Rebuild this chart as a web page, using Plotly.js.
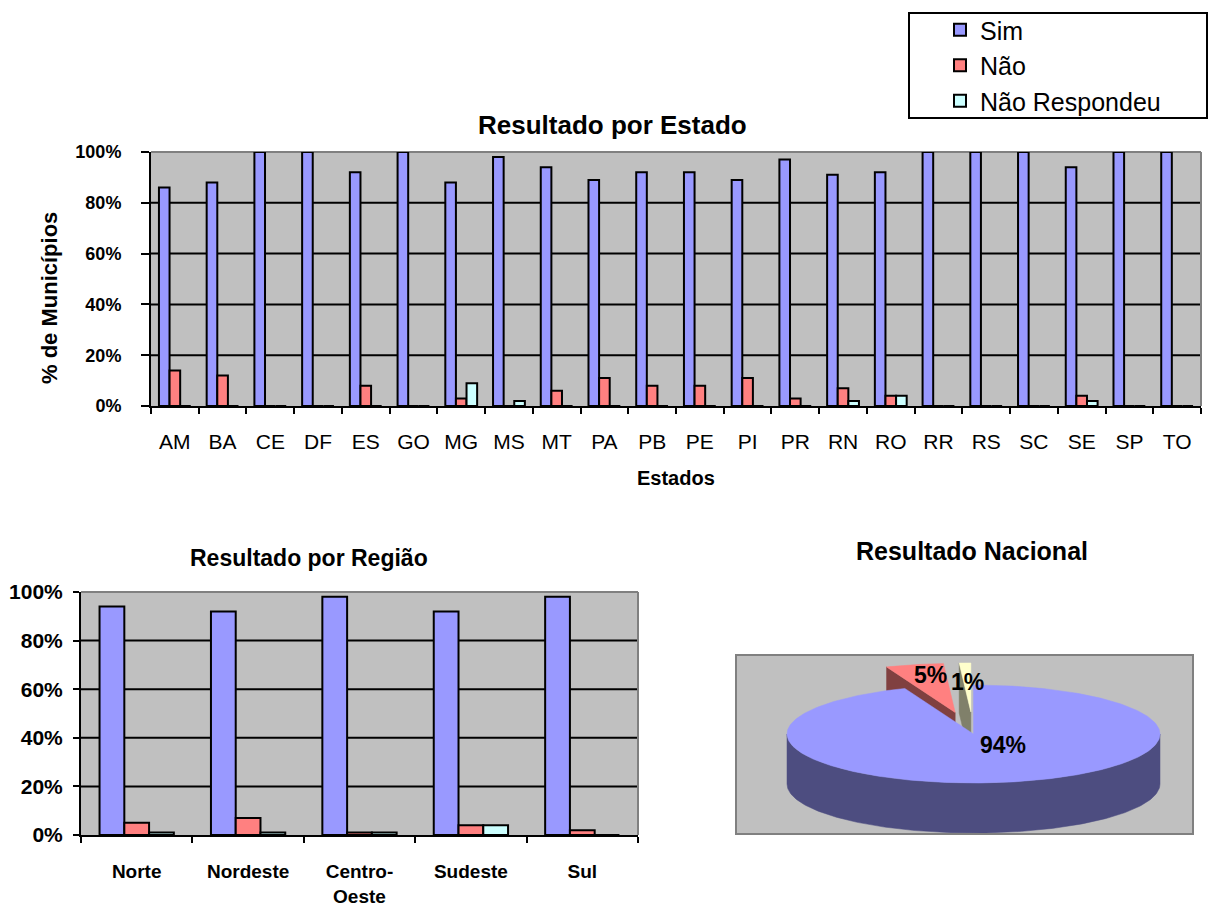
<!DOCTYPE html>
<html>
<head>
<meta charset="utf-8">
<script src="https://cdn.plot.ly/plotly-3.0.1.min.js"></script>
<style>html,body{margin:0;padding:0;background:#fff;}#chart{width:1208px;height:907px;}</style>
</head>
<body>
<div id="chart"></div>
<script>
// ---------- data ----------
const states = ['AM','BA','CE','DF','ES','GO','MG','MS','MT','PA','PB','PE','PI','PR','RN','RO','RR','RS','SC','SE','SP','TO'];
const stateSim = [86,88,100,100,92,100,88,98,94,89,92,92,89,97,91,92,100,100,100,94,100,100];
const stateNao = [14,12,0,0,8,0,3,0,6,11,8,8,11,3,7,4,0,0,0,4,0,0];
const stateNR  = [0,0,0,0,0,0,9,2,0,0,0,0,0,0,2,4,0,0,0,2,0,0];

const regions = ['Norte','Nordeste','Centro-Oeste','Sudeste','Sul'];
const regionSim = [94,92,98,92,98];
const regionNao = [5,7,1,4,2];
const regionNR  = [1,1,1,4,0];

const nationalLabels = ['Sim','Não','Não Respondeu'];
const nationalValues = [94,5,1];

const seriesNames = ['Sim','Não','Não Respondeu'];
const yTicks = [0,20,40,60,80,100];

// ---------- style ----------
const W = 1208, H = 907;
const X = p => p / W;
const Y = p => 1 - p / H;
const FONT = 'Liberation Sans, Arial, sans-serif';
const barColors = ['#9999FF','#FF8080','#CCFFFF'];
const pieTop = ['#9999FF','#FF8080','#FFFFCC'];
const pieSide = ['#4D4D80','#804040','#80806A'];
const grey = '#C0C0C0';

const traces = [];
const stateSeries = [stateSim, stateNao, stateNR];
const regionSeries = [regionSim, regionNao, regionNR];
for (let i = 0; i < 3; i++) {
  traces.push({
    type: 'bar', x: states, y: stateSeries[i], name: seriesNames[i],
    xaxis: 'x', yaxis: 'y',
    marker: {color: barColors[i], line: {color: '#000', width: 2}},
    hoverinfo: 'x+y+name'
  });
}
for (let i = 0; i < 3; i++) {
  traces.push({
    type: 'bar', x: regions, y: regionSeries[i], name: seriesNames[i],
    xaxis: 'x2', yaxis: 'y2', showlegend: false,
    marker: {color: barColors[i], line: {color: '#000', width: 2}},
    hoverinfo: 'x+y+name'
  });
}

// ---------- 3D-looking pie built from the national values ----------
const pieGeom = {cx: 236.5, cy: 78, rx: 186.5, ry: 49, depth: 50, explode: 0.45};
const pt = (t, ox, oy, dz) => {
  const r = t * Math.PI / 180;
  return [pieGeom.cx + ox + pieGeom.rx * Math.sin(r), pieGeom.cy + oy - pieGeom.ry * Math.cos(r) + dz];
};
const total = nationalValues.reduce((a, b) => a + b, 0);
const slices = [];
let acc = 0;
nationalValues.forEach((v, i) => {
  const s = acc / total * 360, e = (acc + v) / total * 360;
  acc += v;
  const mid = (s + e) / 2 * Math.PI / 180;
  const k = i === 0 ? 0 : pieGeom.explode;
  slices.push({i, s, e, ox: k * pieGeom.rx * Math.sin(mid), oy: -k * pieGeom.ry * Math.cos(mid)});
});
function polyTrace(pts, color) {
  return {type: 'scatter', mode: 'lines', xaxis: 'x3', yaxis: 'y3', fill: 'toself',
    x: pts.map(p => p[0]), y: pts.map(p => p[1]), fillcolor: color,
    line: {color: color, width: 0.5}, hoverinfo: 'skip', showlegend: false};
}
function arc(s, e, ox, oy, dz) {
  const out = [];
  const n = Math.max(2, Math.ceil(Math.abs(e - s)));
  for (let j = 0; j <= n; j++) out.push(pt(s + (e - s) * j / n, ox, oy, dz));
  return out;
}
const order = slices.slice(1).concat([slices[0]]);
order.forEach(sl => {
  const {i, s, e, ox, oy} = sl;
  const D = pieGeom.depth;
  const apex = [pieGeom.cx + ox, pieGeom.cy + oy];
  if (s > 180 && s < 360) {
    const rp = pt(s, ox, oy, 0);
    traces.push(polyTrace([apex, rp, [rp[0], rp[1] + D], [apex[0], apex[1] + D], apex], pieSide[i]));
  }
  if (e > 0 && e < 180) {
    const rp = pt(e, ox, oy, 0);
    traces.push(polyTrace([apex, rp, [rp[0], rp[1] + D], [apex[0], apex[1] + D], apex], pieSide[i]));
  }
  const a = Math.max(s, 90), b = Math.min(e, 270);
  if (b > a) {
    const top = arc(a, b, ox, oy, 0);
    const bot = arc(b, a, ox, oy, D);
    traces.push(polyTrace(top.concat(bot).concat([top[0]]), pieSide[i]));
  }
  traces.push(polyTrace([apex].concat(arc(s, e, ox, oy, 0)).concat([apex]), pieTop[i]));
});

const pieLabelPos = [[266, 89], [193, 19], [230, 26]];

const boldTitle = (text, x, y, size, extra) => Object.assign({
  text: text, xref: 'paper', yref: 'paper', x: X(x), y: Y(y),
  xanchor: 'center', yanchor: 'middle', showarrow: false,
  font: {family: FONT, size: size, color: '#000', weight: 700}
}, extra || {});

const annotations = [
  boldTitle('Resultado por Estado', 612, 125, 26),
  boldTitle('Estados', 676, 478, 20),
  boldTitle('% de Municípios', 50, 298, 22, {textangle: -90}),
  boldTitle('Resultado por Região', 309, 558, 23),
  boldTitle('Resultado Nacional', 972, 551, 25)
];
nationalValues.forEach((v, i) => {
  annotations.push({
    text: v + '%', xref: 'x3', yref: 'y3', x: pieLabelPos[i][0], y: pieLabelPos[i][1],
    xanchor: 'center', yanchor: 'middle', showarrow: false,
    font: {family: FONT, size: 23, color: '#000', weight: 700}
  });
});

const yAxisBase = (size, standoff, ticklen) => ({
  range: [0, 100], tickvals: yTicks, ticktext: yTicks.map(v => v + '%'),
  showgrid: false, zeroline: false,
  showline: true, linecolor: '#000', linewidth: 2,
  ticks: 'outside', ticklen: ticklen, tickwidth: 2, tickcolor: '#000',
  ticklabelstandoff: standoff,
  tickfont: {family: FONT, size: size, color: '#000', weight: 700},
  fixedrange: true
});
const xAxisBase = (font, standoff) => ({
  type: 'category', tickson: 'boundaries', ticks: 'outside', ticklen: 6, tickwidth: 2, tickcolor: '#000',
  showline: true, linecolor: '#000', linewidth: 2, showgrid: false, zeroline: false,
  ticklabelstandoff: standoff, tickfont: font, fixedrange: true
});

// gridlines at the inner ticks + grey top/right frame, all beneath the bars
const frameShapes = (xr, yr) => yTicks.filter(v => v > 0 && v < 100).map(v => ({
  type: 'line', xref: xr + ' domain', yref: yr, x0: 0, x1: 1, y0: v, y1: v,
  line: {color: '#000', width: 2}, layer: 'below'
})).concat([
  {type: 'line', xref: xr + ' domain', yref: yr + ' domain', x0: 0, x1: 1, y0: 1, y1: 1, line: {color: '#808080', width: 2}, layer: 'below'},
  {type: 'line', xref: xr + ' domain', yref: yr + ' domain', x0: 1, x1: 1, y0: 0, y1: 1, line: {color: '#808080', width: 2}, layer: 'below'}
]);

const layout = {
  width: W, height: H, autosize: false,
  margin: {l: 0, r: 0, t: 0, b: 0},
  paper_bgcolor: '#fff', plot_bgcolor: grey,
  font: {family: FONT, color: '#000'},
  barmode: 'group', bargap: 0.333, bargroupgap: 0,
  showlegend: true,
  legend: {
    x: X(940), xanchor: 'left', y: Y(7), yanchor: 'top',
    bgcolor: 'rgba(0,0,0,0)', borderwidth: 0,
    font: {family: FONT, size: 25, color: '#000'},
    tracegroupgap: 0, itemwidth: 30, itemclick: false, itemdoubleclick: false
  },
  xaxis: Object.assign(xAxisBase({family: FONT, size: 21, color: '#000'}, 16), {domain: [X(151), X(1201)], anchor: 'y'}),
  yaxis: Object.assign(yAxisBase(18, 16, 8), {domain: [Y(406), Y(152)], anchor: 'x'}),
  xaxis2: Object.assign(xAxisBase({family: FONT, size: 19, color: '#000', weight: 700}, 18), {
    domain: [X(81), X(638)], anchor: 'y2', tickvals: regions, ticktext: regions.map(r => r.replace('-', '-<br>'))}),
  yaxis2: Object.assign(yAxisBase(21, 6, 6), {domain: [Y(835), Y(592)], anchor: 'x2'}),
  xaxis3: {domain: [X(737), X(1192)], anchor: 'y3', range: [0, 455], showgrid: false, zeroline: false,
    showticklabels: false, ticks: '', showline: true, mirror: true, linecolor: '#808080', linewidth: 2, fixedrange: true},
  yaxis3: {domain: [Y(833), Y(656)], anchor: 'x3', range: [177, 0], showgrid: false, zeroline: false,
    showticklabels: false, ticks: '', showline: true, mirror: true, linecolor: '#808080', linewidth: 2, fixedrange: true},
  annotations: annotations,
  shapes: frameShapes('x', 'y').concat(frameShapes('x2', 'y2')).concat([
    {type: 'rect', xref: 'paper', yref: 'paper', x0: X(909), x1: X(1207), y0: Y(118), y1: Y(13),
     line: {color: '#000', width: 2}, fillcolor: 'rgba(0,0,0,0)', layer: 'above'}
  ])
};

Plotly.newPlot('chart', traces, layout, {displayModeBar: false, staticPlot: true});
</script>
</body>
</html>
